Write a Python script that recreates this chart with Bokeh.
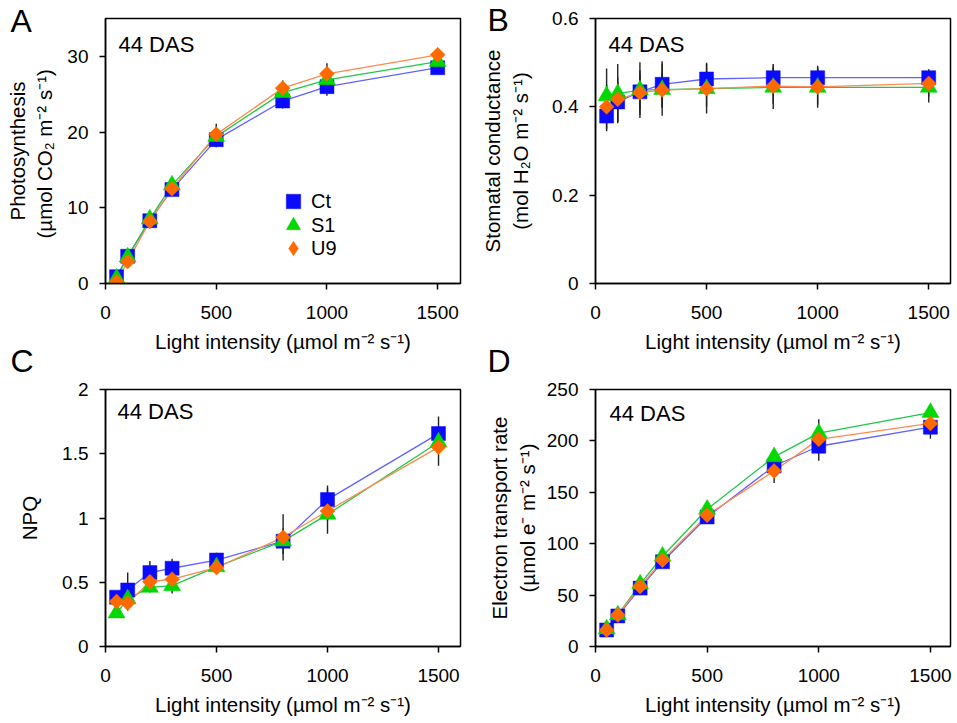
import numpy as np
from bokeh.plotting import figure
from bokeh.models import Range1d, FixedTicker, Label, Legend, GridBox, Column
from bokeh.embed import file_html
from bokeh.resources import INLINE

# ---------------- data ----------------
light = [50, 100, 200, 300, 500, 800, 1000, 1500]
series_names = ["Ct", "S1", "U9"]
x_ticks = [0, 500, 1000, 1500]

# A: photosynthesis
photo_ct = [0.9, 3.6, 8.3, 12.4, 19.0, 24.1, 26.0, 28.5]
photo_s1 = [0.7, 3.5, 8.5, 13.0, 19.4, 25.2, 26.9, 29.3]
photo_u9 = [0.2, 2.9, 8.2, 12.5, 19.7, 25.8, 27.7, 30.2]
photo_ct_sd = [0.3, 0.4, 0.4, 0.5, 1.0, 1.0, 1.2, 0.4]
photo_s1_sd = [0.3, 0.4, 0.4, 0.5, 1.0, 1.0, 1.0, 0.5]
photo_u9_sd = [0.3, 0.4, 0.4, 0.5, 1.4, 1.0, 1.4, 0.5]
photo_ticks = [0, 10, 20, 30]

# B: stomatal conductance
gs_ct = [0.379, 0.411, 0.434, 0.451, 0.463, 0.466, 0.466, 0.466]
gs_s1 = [0.425, 0.430, 0.438, 0.439, 0.441, 0.444, 0.444, 0.444]
gs_u9 = [0.400, 0.417, 0.432, 0.438, 0.441, 0.447, 0.445, 0.453]
gs_ct_sd = [0.034, 0.045, 0.040, 0.052, 0.037, 0.031, 0.027, 0.019]
gs_s1_sd = [0.062, 0.067, 0.063, 0.059, 0.056, 0.049, 0.046, 0.034]
gs_u9_sd = [0.050, 0.050, 0.050, 0.040, 0.040, 0.040, 0.040, 0.030]
gs_ticks = [0, 0.2, 0.4, 0.6]

# C: NPQ
npq_ct = [0.384, 0.44, 0.575, 0.609, 0.673, 0.82, 1.143, 1.657]
npq_s1 = [0.26, 0.37, 0.46, 0.473, 0.62, 0.82, 1.028, 1.59]
npq_u9 = [0.35, 0.338, 0.504, 0.524, 0.614, 0.85, 1.054, 1.552]
npq_ct_sd = [0.04, 0.135, 0.09, 0.074, 0.056, 0.10, 0.11, 0.133]
npq_s1_sd = [0.03, 0.04, 0.04, 0.06, 0.03, 0.05, 0.05, 0.05]
npq_u9_sd = [0.04, 0.06, 0.04, 0.04, 0.03, 0.18, 0.177, 0.145]
npq_ticks = [0, 0.5, 1, 1.5, 2]

# D: electron transport rate
etr_ct = [16.0, 29.7, 56.8, 82.4, 126.0, 175.6, 194.8, 213.3]
etr_s1 = [17.0, 30.7, 60.7, 87.8, 133.5, 184.5, 207.5, 227.6]
etr_u9 = [16.0, 30.7, 58.4, 84.0, 127.7, 170.8, 201.5, 217.0]
etr_ct_sd = [1, 1.5, 2, 3, 4, 6, 14, 11.3]
etr_s1_sd = [1, 1.5, 2, 3, 4, 7, 13.5, 5]
etr_u9_sd = [1, 1.5, 2, 3, 4, 11.8, 8, 5]
etr_ticks = [0, 50, 100, 150, 200, 250]

xlabel = "Light intensity (µmol m⁻² s⁻¹)"
panel_letters = ["A", "B", "C", "D"]
das_text = "44 DAS"

# ---------------- styles ----------------
FONT = "Liberation Sans"
styles = {
    "Ct": dict(marker="square", size=14, angle=0.0, color="#0a0aff", line="#6262ff", legend_marker="square"),
    "S1": dict(marker="triangle", size=17, angle=0.0, color="#00d800", line="#1ec84a", legend_marker="triangle"),
    "U9": dict(marker="square", size=10.6, angle=np.pi / 4, color="#ff6a00", line="#ff8a4c", legend_marker="diamond"),
}


def fmt(v):
    return "%g" % v


def make_panel(ylabel, y_end, y_ticks, x_end, vals, sds, w, h, bl, br, bt, bb,
               ylabel_standoff, das_pos, legend_pos=None):
    p = figure(width=w, height=h, x_range=Range1d(0, x_end), y_range=Range1d(0, y_end),
               output_backend="svg", toolbar_location=None,
               min_border_left=bl, min_border_right=br, min_border_top=bt, min_border_bottom=bb)
    p.xgrid.visible = False
    p.ygrid.visible = False
    p.outline_line_color = "black"
    p.outline_line_width = 1.5
    p.outline_line_alpha = 1.0
    p.background_fill_color = "white"
    p.border_fill_color = "white"

    for ax in (p.xaxis[0], p.yaxis[0]):
        ax.axis_line_color = "black"
        ax.axis_line_width = 1.5
        ax.major_tick_line_color = "black"
        ax.major_tick_line_width = 1.5
        ax.major_tick_in = 0
        ax.major_tick_out = 6
        ax.minor_tick_line_color = None
        ax.major_label_text_font = FONT
        ax.major_label_text_font_size = "19px"
        ax.major_label_text_color = "black"
        ax.axis_label_text_font = FONT
        ax.axis_label_text_font_size = "20.5px"
        ax.axis_label_text_font_style = "normal"
        ax.axis_label_text_color = "black"

    p.xaxis.ticker = FixedTicker(ticks=x_ticks)
    p.xaxis.major_label_overrides = {t: fmt(t) for t in x_ticks}
    p.xaxis.major_label_standoff = 16
    p.xaxis.axis_label = xlabel
    p.xaxis.axis_label_standoff = 8

    p.yaxis.ticker = FixedTicker(ticks=y_ticks)
    p.yaxis.major_label_overrides = {t: fmt(t) for t in y_ticks}
    p.yaxis.major_label_standoff = 11
    p.yaxis.axis_label = ylabel
    p.yaxis.axis_label_standoff = ylabel_standoff

    # lines
    for name in series_names:
        st = styles[name]
        p.line(light, vals[name], line_color=st["line"], line_width=1.3)
    # error bars
    for name in series_names:
        v = np.array(vals[name], dtype=float)
        s = np.array(sds[name], dtype=float)
        p.segment(x0=light, y0=v - s, x1=light, y1=v + s, line_color="#222222", line_width=1.4)
    # markers
    for name in series_names:
        st = styles[name]
        p.scatter(light, vals[name], marker=st["marker"], size=st["size"], angle=st["angle"],
                  fill_color=st["color"], line_color=st["color"], line_width=0.5)

    if legend_pos is not None:
        lx, ly_list = legend_pos
        for name, ly in zip(series_names, ly_list):
            st = styles[name]
            # zero-size marker renderer: invisible in the plot, supplies the legend symbol
            r = p.scatter(light, vals[name], marker=st["legend_marker"], size=0,
                          fill_color=st["color"], line_color=st["color"], line_width=0.5)
            lg = Legend(items=[(name, [r])], location=(lx, ly),
                        border_line_alpha=0, background_fill_alpha=0, padding=0, margin=0,
                        spacing=0, glyph_width=36, glyph_height=36, label_height=20,
                        label_standoff=0, label_text_font=FONT, label_text_font_size="20px",
                        label_text_color="black")
            p.add_layout(lg)

    p.add_layout(Label(x=das_pos[0], y=das_pos[1], x_units="screen", y_units="screen",
                       text=das_text, text_font=FONT, text_font_size="22px",
                       text_baseline="alphabetic", text_align="left", text_color="black"))
    return p


pA = make_panel("Photosynthesis\n(µmol  CO₂ m⁻² s⁻¹)", 35, photo_ticks, 1603,
                {"Ct": photo_ct, "S1": photo_s1, "U9": photo_u9},
                {"Ct": photo_ct_sd, "S1": photo_s1_sd, "U9": photo_u9_sd},
                478, 358, 102, 17, 17, 74, 8, (13, 239), legend_pos=(170, [64, 40, 17]))

pB = make_panel("Stomatal conductance\n(mol H₂O m⁻² s⁻¹)", 0.6, gs_ticks, 1598,
                {"Ct": gs_ct, "S1": gs_s1, "U9": gs_u9},
                {"Ct": gs_ct_sd, "S1": gs_s1_sd, "U9": gs_u9_sd},
                479, 358, 115, 7, 18, 75, 17, (13, 239))

pC = make_panel("NPQ", 2, npq_ticks, 1599,
                {"Ct": npq_ct, "S1": npq_s1, "U9": npq_u9},
                {"Ct": npq_ct_sd, "S1": npq_s1_sd, "U9": npq_u9_sd},
                478, 365, 105, 18, 31, 73, 18, (12, 235))

pD = make_panel("Electron transport rate\n(µmol e⁻ m⁻² s⁻¹)", 250, etr_ticks, 1590,
                {"Ct": etr_ct, "S1": etr_s1, "U9": etr_u9},
                {"Ct": etr_ct_sd, "S1": etr_s1_sd, "U9": etr_u9_sd},
                479, 365, 107, 2, 27, 77, 5, (14, 233))

# transparent overlay carrying the panel letters (they sit outside the plot frames)
ov = figure(width=957, height=723, x_range=Range1d(0, 957), y_range=Range1d(0, 723),
            output_backend="svg", toolbar_location=None, x_axis_type=None, y_axis_type=None,
            min_border=0, min_border_left=0, min_border_right=0, min_border_top=0,
            min_border_bottom=0)
ov.xgrid.visible = False
ov.ygrid.visible = False
ov.outline_line_color = None
ov.background_fill_color = None
ov.border_fill_color = None
letter_pos = [(10, 703), (487, 704), (10, 363), (487, 363)]
for letter, (lx, ly) in zip(panel_letters, letter_pos):
    ov.add_layout(Label(x=lx, y=ly, x_units="screen", y_units="screen", text=letter,
                        text_font=FONT, text_font_size="32px", text_baseline="alphabetic",
                        text_align="left", text_color="black"))
ov_box = Column(children=[ov], width=957, height=723)

grid = GridBox(children=[(pA, 0, 0), (pB, 0, 1), (pC, 1, 0), (pD, 1, 1), (ov_box, 0, 0, 2, 2)],
               spacing=0)
open("out.html", "w").write(file_html(grid, INLINE))
